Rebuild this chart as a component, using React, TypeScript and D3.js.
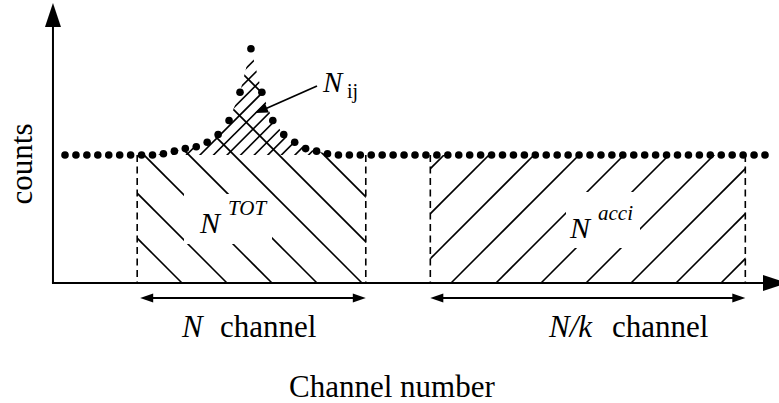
import React from 'react';
import * as d3 from 'd3';

// Counts per channel (baseline of accidental coincidences with a true-coincidence peak)
const counts: number[] = [
  100, 100, 100, 100, 100, 100, 100, 100, 100, 101,
  103, 105, 106.5, 110, 116, 127, 149, 183, 149, 127,
  116, 110, 105, 103, 101, 100, 100, 100, 100, 100,
  100, 100, 100, 100, 100, 100, 100, 100, 100, 100,
  100, 100, 100, 100, 100, 100, 100, 100, 100, 100,
  100, 100, 100, 100, 100, 100, 100, 100, 100, 100,
  100, 100, 100, 100, 100,
];

// Integration windows in channel units: [start, end]
const totWindow: [number, number] = [6.6, 27.5];
const acciWindow: [number, number] = [33.4, 62.2];
// Channels spanned by the peak region above the flat background
const peakRange: [number, number] = [8, 26];

const axisOriginChannel = -1.1;

const W = 779;
const H = 403;
const FONT = 'Liberation Serif';

const x = d3.scaleLinear().domain([0, counts.length - 1]).range([65, 765]);
const y = d3.scaleLinear().domain([0, 100]).range([283, 155]);

function arrowHead(tx: number, ty: number, fx: number, fy: number, len: number, half: number) {
  const dx = tx - fx;
  const dy = ty - fy;
  const d = Math.hypot(dx, dy);
  const ux = dx / d;
  const uy = dy / d;
  const bx = tx - ux * len;
  const by = ty - uy * len;
  const px = -uy * half;
  const py = ux * half;
  return `${tx},${ty} ${bx + px},${by + py} ${bx - px},${by - py}`;
}

export default function App() {
  const x0 = x(axisOriginChannel);
  const yBase = y(0);
  const yBg = y(100);

  const totL = x(totWindow[0]);
  const totR = x(totWindow[1]);
  const acL = x(acciWindow[0]);
  const acR = x(acciWindow[1]);

  // Peak polygon through the dots above the flat background
  const peakIdx = d3.range(peakRange[0], peakRange[1] + 1);
  const peakPts = peakIdx.map((i) => [x(i), y(counts[i])] as [number, number]);
  const peakPath = d3.line()(peakPts) + 'Z';

  // "\" hatch in the N_TOT window (x - y = c)
  const backC = d3.range(0, 8).map((k) => -101 + 45 * k);
  // "/" hatch in the accidental window (x + y = c)
  const fwdC = d3.range(0, 10).map((k) => 599 + 45 * k);
  // dense "/" hatch inside the peak
  const peakC = d3.range(-4, 9).map((k) => 355 + 13.57 * k);

  const lineStyle = { stroke: '#000', strokeWidth: 1.6, fill: 'none' } as const;
  const textStyle = { fontFamily: FONT } as const;

  const arrowY = 298;

  return (
    <svg
      width={W}
      height={H}
      viewBox={`0 0 ${W} ${H}`}
      style={{ position: 'absolute', left: 0, top: 0, background: '#fff', display: 'block' }}
    >
      <defs>
        <clipPath id="totClip">
          <rect x={totL} y={yBg} width={totR - totL} height={yBase - yBg} />
          <path d={peakPath} />
        </clipPath>
        <clipPath id="acciClip">
          <rect x={acL} y={yBg} width={acR - acL} height={yBase - yBg} />
        </clipPath>
        <clipPath id="peakClip">
          <path d={peakPath} />
        </clipPath>
      </defs>

      {/* hatching */}
      <g clipPath="url(#totClip)">
        {backC.map((c, i) => (
          <line key={i} x1={c} y1={0} x2={c + yBase} y2={yBase} style={lineStyle} />
        ))}
      </g>
      <g clipPath="url(#peakClip)">
        {peakC.map((c, i) => (
          <line key={i} x1={c} y1={0} x2={c - yBase} y2={yBase} style={lineStyle} />
        ))}
      </g>
      <g clipPath="url(#acciClip)">
        {fwdC.map((c, i) => (
          <line key={i} x1={c} y1={0} x2={c - yBase} y2={yBase} style={lineStyle} />
        ))}
      </g>

      {/* label backgrounds */}
      <rect x={184} y={194} width={88} height={50} fill="#fff" />
      <rect x={566} y={192} width={74} height={56} fill="#fff" />

      {/* window edges */}
      {[totL, totR, acL, acR].map((xx, i) => (
        <line
          key={i}
          x1={xx}
          y1={yBg}
          x2={xx}
          y2={yBase}
          stroke="#000"
          strokeWidth={1.6}
          strokeDasharray="7 4.5"
        />
      ))}

      {/* axes */}
      <line x1={x0} y1={yBase} x2={x0} y2={26} stroke="#000" strokeWidth={2} />
      <polygon points={arrowHead(x0, 3, x0, yBase, 24, 8)} fill="#000" />
      <line x1={x0 - 1} y1={yBase} x2={766} y2={yBase} stroke="#000" strokeWidth={2} />
      <polygon points={arrowHead(787, yBase, x0, yBase, 24, 8)} fill="#000" />

      {/* data points */}
      {counts.map((v, i) => (
        <circle key={i} cx={x(i)} cy={y(v)} r={3.8} fill="#000" />
      ))}

      {/* window width arrows */}
      <line x1={totL + 8} y1={arrowY} x2={totR - 8} y2={arrowY} stroke="#000" strokeWidth={1.8} />
      <polygon points={arrowHead(totL + 3, arrowY, totR, arrowY, 13, 4.5)} fill="#000" />
      <polygon points={arrowHead(totR, arrowY, totL, arrowY, 13, 4.5)} fill="#000" />
      <line x1={acL + 8} y1={arrowY} x2={acR - 8} y2={arrowY} stroke="#000" strokeWidth={1.8} />
      <polygon points={arrowHead(acL, arrowY, acR, arrowY, 13, 4.5)} fill="#000" />
      <polygon points={arrowHead(acR, arrowY, acL, arrowY, 13, 4.5)} fill="#000" />

      {/* N_ij pointer */}
      <line x1={317} y1={86} x2={265} y2={109} stroke="#000" strokeWidth={1.8} />
      <polygon points={arrowHead(255, 113, 317, 86, 13, 5)} fill="#000" />

      {/* labels */}
      <g fill="#000">
        <text x={323} y={92} fontSize={29} fontStyle="italic" style={textStyle}>N</text>
        <text x={347} y={98} fontSize={20} style={textStyle}>ij</text>

        <text x={200} y={233} fontSize={30} fontStyle="italic" style={textStyle}>N</text>
        <text x={228} y={215} fontSize={21} fontStyle="italic" style={textStyle}>TOT</text>

        <text x={570} y={238} fontSize={30} fontStyle="italic" style={textStyle}>N</text>
        <text x={598} y={220} fontSize={21} fontStyle="italic" style={textStyle}>acci</text>

        <text x={182} y={337} fontSize={31} fontStyle="italic" style={textStyle}>N</text>
        <text x={220} y={337} fontSize={31} style={textStyle}>channel</text>

        <text x={549} y={337} fontSize={31} fontStyle="italic" style={textStyle}>N/k</text>
        <text x={612} y={337} fontSize={31} style={textStyle}>channel</text>

        <text x={289} y={397} fontSize={31} style={textStyle}>Channel number</text>

        <text
          transform="translate(32,164) rotate(-90)"
          textAnchor="middle"
          fontSize={31}
          style={textStyle}
        >
          counts
        </text>
      </g>
    </svg>
  );
}
